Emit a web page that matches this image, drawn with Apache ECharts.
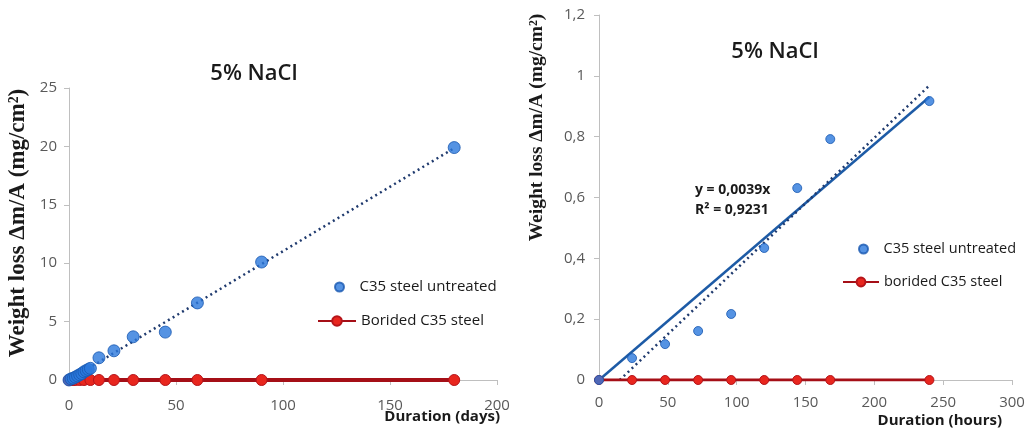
<!DOCTYPE html>
<html><head><meta charset="utf-8">
<script src="https://cdn.jsdelivr.net/npm/echarts@6/dist/echarts.min.js"></script>
<style>html,body{margin:0;padding:0;background:#fff}#c{width:1029px;height:430px}</style>
</head><body><div id="c"></div>
<script>
// ---- Left chart (days) ----
const leftTitle = '5% NaCl';
const leftXName = 'Duration (days)';
const yName = 'Weight loss \u0394m/A (mg/cm\u00B2)';
const untreatedDays = [0, 1, 2, 3, 4, 5, 6, 7, 8, 9, 10, 14, 21, 30, 45, 60, 90, 180];
const untreatedLossDays = [0, 0.1, 0.15, 0.25, 0.35, 0.45, 0.55, 0.7, 0.8, 0.9, 1.0, 1.9, 2.5, 3.7, 4.1, 6.6, 10.1, 19.9];
const boridedDays = [0, 1, 2, 3, 5, 7, 10, 14, 21, 30, 45, 60, 90, 180];
const boridedLossDays = [0, 0, 0, 0, 0, 0, 0, 0, 0, 0, 0, 0, 0, 0];
const leftNames = ['C35 steel untreated', 'Borided C35 steel'];

// ---- Right chart (hours) ----
const rightTitle = '5% NaCl';
const rightXName = 'Duration (hours)';
const untreatedHours = [0, 24, 48, 72, 96, 120, 144, 168, 240];
const untreatedLossHours = [0, 0.072, 0.118, 0.161, 0.217, 0.434, 0.631, 0.792, 0.917];
const boridedHours = [0, 24, 48, 72, 96, 120, 144, 168, 240];
const boridedLossHours = [0, 0, 0, 0, 0, 0, 0, 0, 0];
const rightNames = ['C35 steel untreated', 'borided C35 steel'];
const equationText = ['y = 0,0039x', 'R\u00B2 = 0,9231'];

// ---- fits computed from data ----
function fitOrigin(xs, ys) { let sxy = 0, sxx = 0; xs.forEach((x, i) => { sxy += x * ys[i]; sxx += x * x; }); return sxy / sxx; }
function fitOLS(xs, ys) {
  const n = xs.length, mx = xs.reduce((a, b) => a + b, 0) / n, my = ys.reduce((a, b) => a + b, 0) / n;
  let sxy = 0, sxx = 0; xs.forEach((x, i) => { sxy += (x - mx) * (ys[i] - my); sxx += (x - mx) * (x - mx); });
  const m = sxy / sxx; return { m, b: my - m * mx };
}
const zip = (a, b) => a.map((v, i) => [v, b[i]]);
const xMaxL = Math.max(...untreatedDays);
const kL = fitOrigin(untreatedDays, untreatedLossDays);
const trendL = [[0, 0], [xMaxL, kL * xMaxL]];
const xMaxR = Math.max(...untreatedHours);
const kR = fitOrigin(untreatedHours, untreatedLossHours);
const trendR = [[0, 0], [xMaxR, kR * xMaxR]];
const ols = fitOLS(untreatedHours, untreatedLossHours);
const x0 = -ols.b / ols.m;
const trendR2 = [[x0, 0], [xMaxR, ols.m * xMaxR + ols.b]];

const tickFont = { fontFamily: 'Open Sans', fontSize: 15, color: '#595959' };
const axisLine = { show: true, lineStyle: { color: '#bfbfbf', width: 1 } };
const axisTick = { show: true, length: 5, lineStyle: { color: '#bfbfbf' } };
const blue = { color: '#2a78dc', borderColor: '#1858b0', borderWidth: 1 };
const redMarker = { color: '#e8261e', borderColor: '#b5141a', borderWidth: 1 };
const redLine = '#a50f17';
const legTxtL = { fontFamily: 'Open Sans', fontSize: 15, color: '#1a1a1a', lineHeight: 18 };
const legTxtR = { fontFamily: 'Open Sans', fontSize: 14.5, color: '#1a1a1a', lineHeight: 18 };
const titleFont = { fontFamily: 'Open Sans', fontSize: 22, fontWeight: 600, color: '#1a1a1a' };

const chart = echarts.init(document.getElementById('c'), null, { renderer: 'canvas' });
chart.setOption({
  animation: false,
  backgroundColor: '#fff',
  title: [
    { text: leftTitle, left: 249, top: 69, textAlign: 'center', textVerticalAlign: 'middle', textStyle: titleFont },
    { text: rightTitle, left: 770, top: 47, textAlign: 'center', textVerticalAlign: 'middle', textStyle: titleFont }
  ],
  grid: [
    { left: 69, right: 532, top: 88, bottom: 50 },
    { left: 599, right: 17, top: 15, bottom: 50 }
  ],
  xAxis: [
    { gridIndex: 0, type: 'value', min: 0, max: 200, interval: 50, splitLine: { show: false },
      axisLine, axisTick, axisLabel: { ...tickFont, margin: 18 },
      name: leftXName, nameLocation: 'end', nameGap: 3, nameMoveOverlap: false,
      nameTextStyle: { fontFamily: 'Open Sans', fontSize: 15, fontWeight: 'bold', color: '#1a1a1a', align: 'right', verticalAlign: 'top', padding: [29, 0, 0, 0] } },
    { gridIndex: 1, type: 'value', min: 0, max: 300, interval: 50, splitLine: { show: false },
      axisLine, axisTick, axisLabel: { ...tickFont, margin: 15 },
      name: rightXName, nameLocation: 'end', nameGap: -10, nameMoveOverlap: false,
      nameTextStyle: { fontFamily: 'Open Sans', fontSize: 15, fontWeight: 'bold', color: '#1a1a1a', align: 'right', verticalAlign: 'top', padding: [33, 0, 0, 0] } }
  ],
  yAxis: [
    { gridIndex: 0, type: 'value', min: 0, max: 25, interval: 5, splitLine: { show: false },
      axisLine, axisTick, axisLabel: { ...tickFont, margin: 12 },
      name: yName, nameLocation: 'middle', nameGap: 39, nameRotate: 90,
      nameTextStyle: { fontFamily: 'Liberation Serif', fontSize: 23, fontWeight: 'bold', color: '#1a1a1a', padding: [0, 0, 0, 22] } },
    { gridIndex: 1, type: 'value', min: 0, max: 1.2, interval: 0.2, splitLine: { show: false },
      axisLine, axisTick, axisLabel: { ...tickFont, margin: 14, formatter: v => String(+v.toFixed(1)).replace('.', ',') },
      name: yName, nameLocation: 'middle', nameGap: 52, nameRotate: 90,
      nameTextStyle: { fontFamily: 'Liberation Serif', fontSize: 19.5, fontWeight: 'bold', color: '#1a1a1a', padding: [0, 0, 0, 140] } }
  ],
  legend: [
    { data: [leftNames[0]], left: 334, top: 278, padding: 0, itemWidth: 30, itemHeight: 9, textStyle: legTxtL, selectedMode: false },
    { data: [leftNames[1]], left: 317, top: 312, padding: 0, itemWidth: 38, itemHeight: 12, textStyle: legTxtL, selectedMode: false },
    { data: [rightNames[0]], left: 858, top: 240, padding: 0, itemWidth: 30, itemHeight: 9, textStyle: legTxtR, selectedMode: false },
    { data: [rightNames[1]], left: 842, top: 273, padding: 0, itemWidth: 36, itemHeight: 11, textStyle: legTxtR, selectedMode: false }
  ],
  graphic: [
    { type: 'text', left: 695, top: 183, style: { text: equationText[0], font: 'bold 14px "Open Sans"', fill: '#1a1a1a' } },
    { type: 'text', left: 695, top: 203, style: { text: equationText[1], font: 'bold 14px "Open Sans"', fill: '#1a1a1a' } }
  ],
  series: [
    { name: 'trendL', type: 'line', xAxisIndex: 0, yAxisIndex: 0, data: trendL, symbol: 'none', silent: true,
      lineStyle: { color: '#1f3a6e', width: 2.5, type: [2, 3.5] }, z: 1 },
    { name: leftNames[1], type: 'line', xAxisIndex: 0, yAxisIndex: 0, data: zip(boridedDays, boridedLossDays),
      symbol: 'circle', symbolSize: 11, itemStyle: redMarker, lineStyle: { color: redLine, width: 4 }, z: 2 },
    { name: leftNames[0], type: 'scatter', xAxisIndex: 0, yAxisIndex: 0, data: zip(untreatedDays, untreatedLossDays),
      symbolSize: 12, itemStyle: blue, z: 3 },

    { name: 'trendR', type: 'line', xAxisIndex: 1, yAxisIndex: 1, data: trendR, symbol: 'none', silent: true,
      lineStyle: { color: '#1d5ba6', width: 2.5 }, z: 1 },
    { name: 'trendR2', type: 'line', xAxisIndex: 1, yAxisIndex: 1, data: trendR2, symbol: 'none', silent: true,
      lineStyle: { color: '#1f3a6e', width: 2.5, type: [2, 3.5] }, z: 1 },
    { name: rightNames[1], type: 'line', xAxisIndex: 1, yAxisIndex: 1, data: zip(boridedHours, boridedLossHours),
      symbol: 'circle', symbolSize: 9, itemStyle: redMarker, lineStyle: { color: redLine, width: 3 }, z: 2 },
    { name: rightNames[0], type: 'scatter', xAxisIndex: 1, yAxisIndex: 1, data: zip(untreatedHours, untreatedLossHours),
      symbolSize: 9, itemStyle: blue, z: 3 }
  ]
});
</script></body></html>
